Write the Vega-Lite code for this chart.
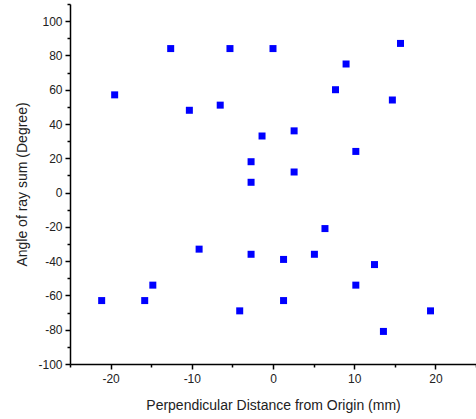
{
  "$schema": "https://vega.github.io/schema/vega-lite/v6.json",
  "autosize": "none",
  "width": 406,
  "height": 360,
  "padding": {"left": 70, "top": 4, "right": 0, "bottom": 55},
  "background": "white",
  "config": {"view": {"stroke": null}, "font": "Liberation Sans"},
  "data": {"values": [
    {"x": -21.1, "y": -63}, {"x": -15.8, "y": -63}, {"x": -14.8, "y": -54}, {"x": -9.1, "y": -33},
    {"x": -4.1, "y": -69}, {"x": -2.7, "y": -36}, {"x": 1.3, "y": -39}, {"x": 1.3, "y": -63},
    {"x": 5.1, "y": -36}, {"x": 6.4, "y": -21}, {"x": 10.2, "y": -54}, {"x": 12.5, "y": -42},
    {"x": 13.6, "y": -81}, {"x": 19.4, "y": -69},
    {"x": -19.5, "y": 57}, {"x": -12.6, "y": 84}, {"x": -10.3, "y": 48}, {"x": -6.5, "y": 51},
    {"x": -5.3, "y": 84}, {"x": 0, "y": 84}, {"x": -1.35, "y": 33}, {"x": -2.7, "y": 18},
    {"x": -2.7, "y": 6}, {"x": 2.6, "y": 36}, {"x": 2.6, "y": 12}, {"x": 7.7, "y": 60},
    {"x": 9.0, "y": 75}, {"x": 10.2, "y": 24}, {"x": 14.7, "y": 54}, {"x": 15.7, "y": 87}
  ]},
  "mark": {"type": "point", "shape": "square", "filled": true, "color": "#0000ff", "opacity": 1, "size": 49},
  "encoding": {
    "x": {
      "field": "x", "type": "quantitative",
      "scale": {"domain": [-25, 25], "nice": false, "zero": false},
      "axis": {
        "title": "Perpendicular Distance from Origin (mm)",
        "values": [-25, -20, -15, -10, -5, 0, 5, 10, 15, 20, 25],
        "labelExpr": "datum.value % 10 === 0 ? '' + datum.value : ''",
        "grid": false,
        "domainColor": "#000000", "domainWidth": 1.5,
        "tickColor": "#000000", "tickWidth": 1.5,
        "tickSize": {"condition": {"test": "datum.value % 10 === 0", "value": 5}, "value": 3},
        "labelFontSize": 12, "labelColor": "#222222", "labelPadding": 4, "labelFont": "Liberation Sans",
        "titleFontSize": 14, "titleFontWeight": "normal", "titleColor": "#222222", "titleFont": "Liberation Sans",
        "titlePadding": 14, "labelOverlap": false, "labelFlush": false
      }
    },
    "y": {
      "field": "y", "type": "quantitative",
      "scale": {"domain": [-100, 110], "nice": false, "zero": false},
      "axis": {
        "title": "Angle of ray sum (Degree)",
        "values": [-100, -90, -80, -70, -60, -50, -40, -30, -20, -10, 0, 10, 20, 30, 40, 50, 60, 70, 80, 90, 100, 110],
        "labelExpr": "datum.value % 20 === 0 ? '' + datum.value : ''",
        "grid": false,
        "domainColor": "#000000", "domainWidth": 1.5,
        "tickColor": "#000000", "tickWidth": 1.5,
        "tickSize": {"condition": {"test": "datum.value % 20 === 0", "value": 5}, "value": 3},
        "labelFontSize": 12, "labelColor": "#222222", "labelPadding": 3, "labelFont": "Liberation Sans",
        "titleFontSize": 14, "titleFontWeight": "normal", "titleColor": "#222222", "titleFont": "Liberation Sans",
        "titlePadding": 8, "labelOverlap": false, "labelFlush": false
      }
    }
  }
}
